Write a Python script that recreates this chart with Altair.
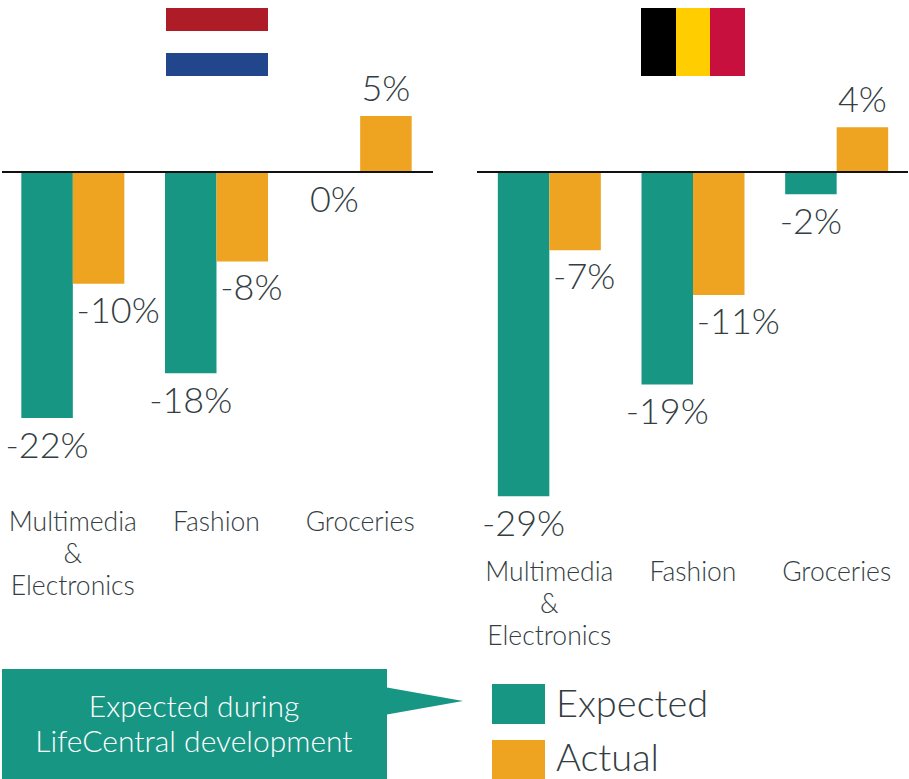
import altair as alt
import pandas as pd

CATEGORIES = ["Multimedia\n&\nElectronics", "Fashion", "Groceries"]
SERIES = ["Expected", "Actual"]
NL_EXPECTED = [-22, -18, 0]
NL_ACTUAL = [-10, -8, 5]
BE_EXPECTED = [-29, -19, -2]
BE_ACTUAL = [-7, -11, 4]

TEAL = "#189684"
ORANGE = "#EEA321"
INK = "#333D42"
FONT = "Lato"
WEIGHT = 300
VALUE_SIZE = 36
CATEGORY_SIZE = 26.5

PANEL_W = 431
PANEL_H = 779
Y_SCALE = alt.Scale(domain=[-54.29, 15.38], nice=False, zero=False)


def frame(expected, actual):
    rows = []
    for cat, e, a in zip(CATEGORIES, expected, actual):
        rows.append({"category": cat, "series": "Expected", "value": e})
        rows.append({"category": cat, "series": "Actual", "value": a})
    return pd.DataFrame(rows)


x_enc = alt.X("category:N", axis=None, sort=CATEGORIES,
              scale=alt.Scale(domain=CATEGORIES, paddingInner=0.283, paddingOuter=0.1415))
x_off = alt.XOffset("series:N", sort=SERIES, scale=alt.Scale(domain=SERIES, paddingInner=0, paddingOuter=0))
y_enc = alt.Y("value:Q", axis=None, scale=Y_SCALE)


def block(x0, x1, y0, y1, color):
    return alt.Chart(pd.DataFrame({"k": [0]})).mark_rect(color=color).encode(
        x=alt.value(x0), x2=alt.value(x1), y=alt.value(y0), y2=alt.value(y1))


def caption(text, x, y, size, color=INK, align="left"):
    return alt.Chart(pd.DataFrame({"t": [text]})).mark_text(
        font=FONT, fontWeight=WEIGHT, fontSize=size, color=color, align=align, baseline="middle"
    ).encode(text="t:N", x=alt.value(x), y=alt.value(y))


def panel(expected, actual, category_y, rule_start, extras):
    base = alt.Chart(frame(expected, actual)).transform_calculate(label="datum.value + '%'")
    bars = base.mark_bar().encode(
        x=x_enc, xOffset=x_off, y=y_enc, y2=alt.datum(0),
        color=alt.Color("series:N", legend=None,
                        scale=alt.Scale(domain=SERIES, range=[TEAL, ORANGE])),
    )
    axis_line = base.mark_rule(color="#111111", strokeWidth=2).encode(
        x=alt.value(rule_start), x2=alt.value(PANEL_W + rule_start),
        y=alt.Y(datum=0, axis=None, scale=Y_SCALE))

    style = dict(font=FONT, fontWeight=WEIGHT, fontSize=VALUE_SIZE, color=INK, baseline="middle")
    enc = dict(x=x_enc, xOffset=x_off, y=y_enc, text="label:N")
    expected_text = base.transform_filter("datum.series == 'Expected'").mark_text(
        align="center", dy=29, **style).encode(**enc)
    actual_down = base.transform_filter("datum.series == 'Actual' && datum.value < 0").mark_text(
        align="left", dx=-22, dy=28, **style).encode(**enc)
    actual_up = base.transform_filter("datum.series == 'Actual' && datum.value > 0").mark_text(
        align="center", dy=-26, **style).encode(**enc)

    cats = alt.Chart(pd.DataFrame({"category": CATEGORIES})).mark_text(
        font=FONT, fontWeight=WEIGHT, fontSize=CATEGORY_SIZE, color=INK, align="center", baseline="top",
        lineBreak="\n", lineHeight=32,
    ).encode(x=x_enc, y=alt.value(category_y), text="category:N")

    return alt.layer(*extras, bars, axis_line, expected_text, actual_down, actual_up, cats).properties(
        width=PANEL_W, height=PANEL_H)


# Netherlands flag, callout box and its pointer
nl_extras = [
    block(165, 267, 8, 31, "#AE1C28"),
    block(165, 267, 53, 76, "#21468B"),
    block(1, 386, 669, 779, TEAL),
    alt.Chart(pd.DataFrame({"k": [0]})).mark_point(
        shape="M0,-0.355L2,0L0,0.355Z", filled=True, opacity=1, color=TEAL, size=5776
    ).encode(x=alt.value(386), y=alt.value(701)),
    caption("Expected during", 193, 708, 30, "white", "center"),
    caption("LifeCentral development", 193, 743, 30, "white", "center"),
]

# Belgium flag and the legend
be_extras = [
    block(163.5, 198.5, 8, 76, "#000000"),
    block(198.5, 232.5, 8, 76, "#FFCD00"),
    block(232.5, 267.5, 8, 76, "#C8103E"),
    block(14.5, 67.5, 684, 724, TEAL),
    block(14.5, 67.5, 740, 779, ORANGE),
    caption("Expected", 78.5, 706, 38),
    caption("Actual", 78.5, 760, 38),
]

left = panel(NL_EXPECTED, NL_ACTUAL, 510, 1, nl_extras)
right = panel(BE_EXPECTED, BE_ACTUAL, 560, -0.5, be_extras)

chart = alt.hconcat(left, right, spacing=45.5, bounds="flush").properties(
    padding={"left": 1, "top": 0, "right": 0, "bottom": 0},
    background="white",
).configure_view(stroke=None)

chart.save("out.html", embed_options={"renderer": "svg", "actions": False})
